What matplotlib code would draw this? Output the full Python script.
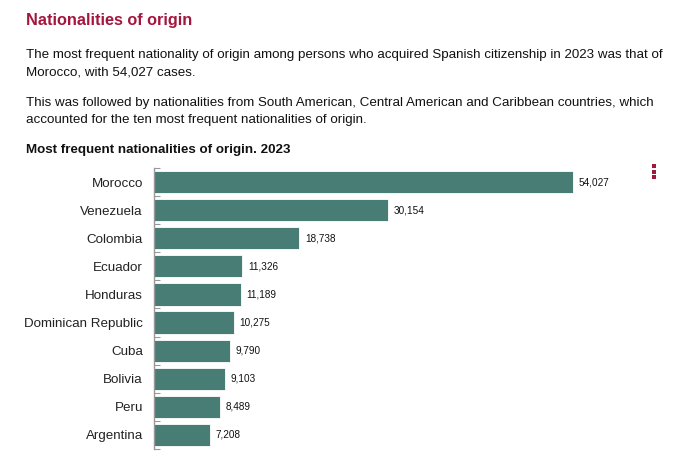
import numpy as np
import matplotlib
matplotlib.use("Agg")
import matplotlib.pyplot as plt
from matplotlib.lines import Line2D

# data
countries = ['Morocco', 'Venezuela', 'Colombia', 'Ecuador', 'Honduras',
             'Dominican Republic', 'Cuba', 'Bolivia', 'Peru', 'Argentina']
cases = [54027, 30154, 18738, 11326, 11189, 10275, 9790, 9103, 8489, 7208]

title = 'Nationalities of origin'
para1 = ['The most frequent nationality of origin among persons who acquired Spanish citizenship in 2023 was that of',
         'Morocco, with 54,027 cases.']
para2 = ['This was followed by nationalities from South American, Central American and Caribbean countries, which',
         'accounted for the ten most frequent nationalities of origin.']
chart_title = 'Most frequent nationalities of origin. 2023'

plt.rcParams['font.family'] = ['Liberation Sans', 'DejaVu Sans']

W, H = 689, 457
fig = plt.figure(figsize=(W / 100, H / 100), dpi=100)

def fy(py):
    return 1 - py / H

red = '#a3173f'
fig.text(26 / W, fy(21), title, color=red, fontsize=11.7, fontweight='bold', va='center', ha='left')
for i, line in enumerate(para1):
    fig.text(26 / W, fy(55 + 17 * i), line, fontsize=9.65, va='center', ha='left', color='#111111')
for i, line in enumerate(para2):
    fig.text(26 / W, fy(103 + 17 * i), line, fontsize=9.65, va='center', ha='left', color='#111111')
fig.text(26 / W, fy(150), chart_title, fontsize=9.65, fontweight='bold', va='center', ha='left', color='#111111')

# chart area
left, right, top, bottom = 154, 640, 168, 449
ax = fig.add_axes([left / W, 1 - bottom / H, (right - left) / W, (bottom - top) / H])
y = np.arange(len(countries))
ax.barh(y, cases, height=0.79, color='#477d75', edgecolor='white', linewidth=0.6)
ax.set_ylim(len(countries) - 0.5, -0.5)
ax.set_xlim(0, (right - left) / 419 * cases[0])

for yi, v in zip(y, cases):
    ax.annotate(f'{v:,}', (v, yi), xytext=(4.3, 0), textcoords='offset points',
                va='center', ha='left', fontsize=7.2, color='#111111')

ax.set_yticks(y)
ax.set_yticklabels(countries, fontsize=9.6, color='#222222')
ax.tick_params(axis='y', which='major', length=0, pad=8)
ax.set_yticks(np.arange(len(countries) + 1) - 0.5, minor=True)
ax.tick_params(axis='y', which='minor', direction='in', length=4, color='#999999', width=0.8)
ax.set_xticks([])
for s in ['top', 'right', 'bottom']:
    ax.spines[s].set_visible(False)
ax.spines['left'].set_color('#999999')
ax.spines['left'].set_linewidth(1)

# menu icon
for dy in (166, 171.5, 177):
    fig.add_artist(Line2D([654 / W], [fy(dy)], marker='s', markersize=2.6,
                          markeredgewidth=0, color=red, linestyle='none'))

fig.savefig('out.png', dpi=100)
